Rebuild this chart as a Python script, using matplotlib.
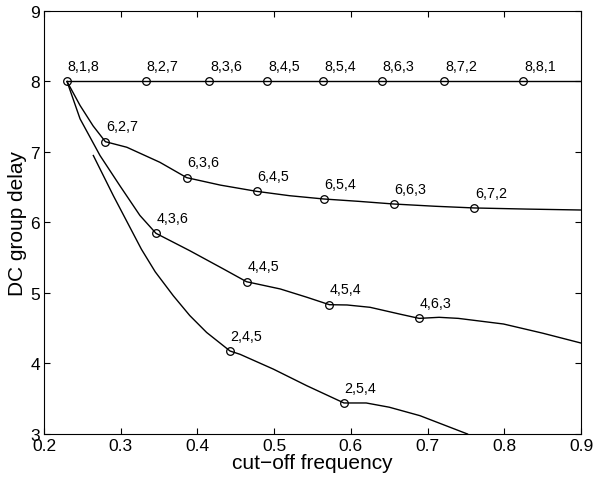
import matplotlib
matplotlib.use("Agg")
import matplotlib.pyplot as plt

plt.rcParams['font.family'] = ['Liberation Sans', 'DejaVu Sans']

# Curves
c8_x = [0.23, 0.9]
c8_y = [8.0, 8.0]
m8_x = [0.23, 0.333, 0.4155, 0.491, 0.564, 0.640, 0.722, 0.825]
m8_y = [8, 8, 8, 8, 8, 8, 8, 8]
m8_lab = ["8,1,8", "8,2,7", "8,3,6", "8,4,5", "8,5,4", "8,6,3", "8,7,2", "8,8,1"]

c6_x = [0.23, 0.247, 0.264, 0.28, 0.308, 0.351, 0.386, 0.43, 0.477, 0.52, 0.565,
        0.61, 0.656, 0.71, 0.761, 0.83, 0.9]
c6_y = [8.0, 7.66, 7.37, 7.146, 7.067, 6.854, 6.636, 6.53, 6.442, 6.38, 6.333,
        6.30, 6.262, 6.23, 6.206, 6.19, 6.177]
m6_x = [0.28, 0.386, 0.477, 0.565, 0.656, 0.761]
m6_y = [7.146, 6.636, 6.442, 6.333, 6.262, 6.206]
m6_lab = ["6,2,7", "6,3,6", "6,4,5", "6,5,4", "6,6,3", "6,7,2"]

c4_x = [0.23, 0.247, 0.273, 0.299, 0.325, 0.346, 0.39, 0.434, 0.464, 0.508, 0.5425,
        0.572, 0.595, 0.625, 0.664, 0.689, 0.715, 0.74, 0.799, 0.85, 0.9]
c4_y = [8.0, 7.47, 6.95, 6.52, 6.10, 5.846, 5.6, 5.34, 5.16, 5.057, 4.94,
        4.834, 4.83, 4.797, 4.70, 4.64, 4.655, 4.64, 4.56, 4.43, 4.29]
m4_x = [0.346, 0.464, 0.572, 0.689]
m4_y = [5.846, 5.16, 4.834, 4.64]
m4_lab = ["4,3,6", "4,4,5", "4,5,4", "4,6,3"]

c2_x = [0.2643, 0.2904, 0.327, 0.345, 0.3686, 0.39, 0.412, 0.4425, 0.4556, 0.499,
        0.5425, 0.591, 0.62, 0.65, 0.69, 0.752]
c2_y = [6.95, 6.38, 5.62, 5.30, 4.96, 4.68, 4.44, 4.177, 4.13, 3.92,
        3.685, 3.44, 3.44, 3.38, 3.26, 3.0]
m2_x = [0.4425, 0.591]
m2_y = [4.177, 3.44]
m2_lab = ["2,4,5", "2,5,4"]

x_ticks = [0.2, 0.3, 0.4, 0.5, 0.6, 0.7, 0.8, 0.9]
y_ticks = [3, 4, 5, 6, 7, 8, 9]

fig = plt.figure(figsize=(5.93, 4.85), dpi=100)
ax = fig.add_axes([0.0742, 0.1031, 0.9056, 0.8722])

for cx, cy, mx, my, labs in [(c8_x, c8_y, m8_x, m8_y, m8_lab),
                             (c6_x, c6_y, m6_x, m6_y, m6_lab),
                             (c4_x, c4_y, m4_x, m4_y, m4_lab),
                             (c2_x, c2_y, m2_x, m2_y, m2_lab)]:
    ax.plot(cx, cy, color='black', lw=1.0)
    ax.plot(mx, my, linestyle='none', marker='o', markersize=5.5,
            markerfacecolor='none', markeredgecolor='black', markeredgewidth=0.9)
    for x, y, t in zip(mx, my, labs):
        ax.annotate(t, (x, y), xytext=(0.5, 6), textcoords='offset points',
                    ha='left', va='bottom', fontsize=10.3)

ax.set_xlim(0.2, 0.9)
ax.set_ylim(3, 9)
ax.set_xticks(x_ticks)
ax.set_xticklabels([f"{v:.1f}" for v in x_ticks])
ax.set_yticks(y_ticks)
ax.tick_params(direction='in', top=True, right=True, labelsize=12.5, length=4, pad=3)
ax.set_xlabel("cut\u2212off frequency", fontsize=15, labelpad=0)
ax.set_ylabel("DC group delay", fontsize=15, labelpad=2)
for s in ax.spines.values():
    s.set_linewidth(0.8)

fig.savefig("out.png", dpi=100)
